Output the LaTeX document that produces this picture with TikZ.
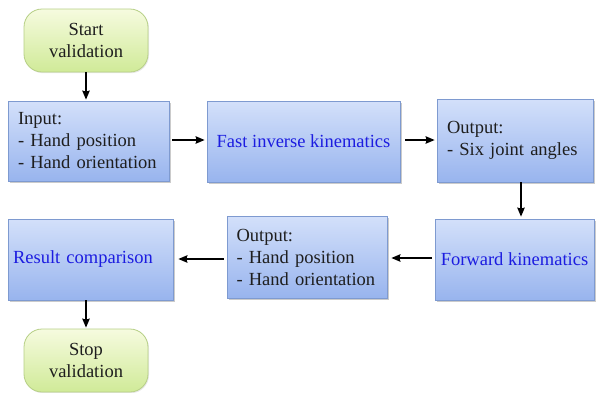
\documentclass[tikz,border=0pt]{standalone}
\usepackage{fontspec}
\setmainfont{Liberation Serif}
\newfontfamily\tms{Liberation Serif}
\usetikzlibrary{arrows.meta,shadows}
\hyphenpenalty=10000
\exhyphenpenalty=10000
\definecolor{btop}{HTML}{D3E0FA}
\definecolor{bbot}{HTML}{98B4EE}
\definecolor{bbord}{HTML}{7E9AD0}
\definecolor{gtop}{HTML}{F6FBDF}
\definecolor{gbot}{HTML}{D0EA98}
\definecolor{gbord}{HTML}{B6CF86}
\definecolor{bluetxt}{HTML}{1C1CE0}
\definecolor{darktxt}{HTML}{1E1E1E}
\tikzset{
  basefont/.style={font=\tms\fontsize{18.5}{22}\selectfont},
  bluebox/.style={basefont, draw=bbord, line width=0.8pt, top color=btop, bottom color=bbot,
    drop shadow={shadow xshift=1.5pt, shadow yshift=-1.8pt, fill=black!45, opacity=0.45},
    inner sep=0pt, text=darktxt},
  greenbox/.style={basefont, draw=gbord, line width=0.8pt, top color=gtop, bottom color=gbot,
    rounded corners=18pt, align=center, inner sep=0pt, text=darktxt,
    drop shadow={shadow xshift=1pt, shadow yshift=-1.2pt, fill=black!25, opacity=0.35}},
  arr/.style={line width=1.3pt, -{Stealth[length=9pt,width=7.5pt,inset=1pt]}},
}
\begin{document}
\begin{tikzpicture}[x=1pt,y=-1pt]
\useasboundingbox (0,0) rectangle (596,392);
% terminals
\node[greenbox, minimum width=124pt, minimum height=63pt] (start) at (86,40.5) {Start\\validation};
\node[greenbox, minimum width=124pt, minimum height=63pt] (stop) at (86,360.5) {Stop\\validation};
% row 1
\node[bluebox, minimum height=80pt, inner xsep=10pt, text width=141pt, align=left] (in) at (88.5,141)
  {Input:\\- Hand position\\- Hand orientation};
\node[bluebox, minimum width=193pt, minimum height=81pt, text=bluetxt] (fik) at (303.5,141.5)
  {Fast inverse kinematics};
\node[bluebox, minimum height=83pt, inner xsep=10pt, text width=136pt, align=left] (out1) at (515,140.5)
  {Output:\\- Six joint angles};
% row 2
\node[bluebox, minimum width=159pt, minimum height=81pt, text=bluetxt] (fk) at (514.5,259.5)
  {Forward kinematics};
\node[bluebox, minimum height=82pt, inner xsep=9.5pt, text width=141pt, align=left] (out2) at (307,257)
  {Output:\\- Hand position\\- Hand orientation};
\node[bluebox, minimum height=81pt, inner xsep=5pt, text width=155pt, align=left, text=bluetxt] (res) at (90.5,259.5)
  {Result comparison};
% connectors
\coordinate (c1) at (86,0);
\coordinate (c2) at (521,0);
\draw[arr, shorten >=1pt] (start.south) -- (start.south|-in.north);
\draw[arr, shorten <=3pt, shorten >=2pt] (in.east|-0,140) -- (fik.west|-0,140);
\draw[arr, shorten <=5pt, shorten >=2pt] (fik.east|-0,140) -- (out1.west|-0,140);
\draw[arr, shorten >=2pt] (c2|-out1.south) -- (c2|-fk.north);
\draw[arr, shorten <=3pt, shorten >=4pt] (fk.west|-0,258) -- (out2.east|-0,258);
\draw[arr, shorten <=3pt, shorten >=5pt] (out2.west|-0,259) -- (res.east|-0,259);
\draw[arr, shorten >=1pt] (c1|-res.south) -- (c1|-stop.north);
\end{tikzpicture}
\end{document}
